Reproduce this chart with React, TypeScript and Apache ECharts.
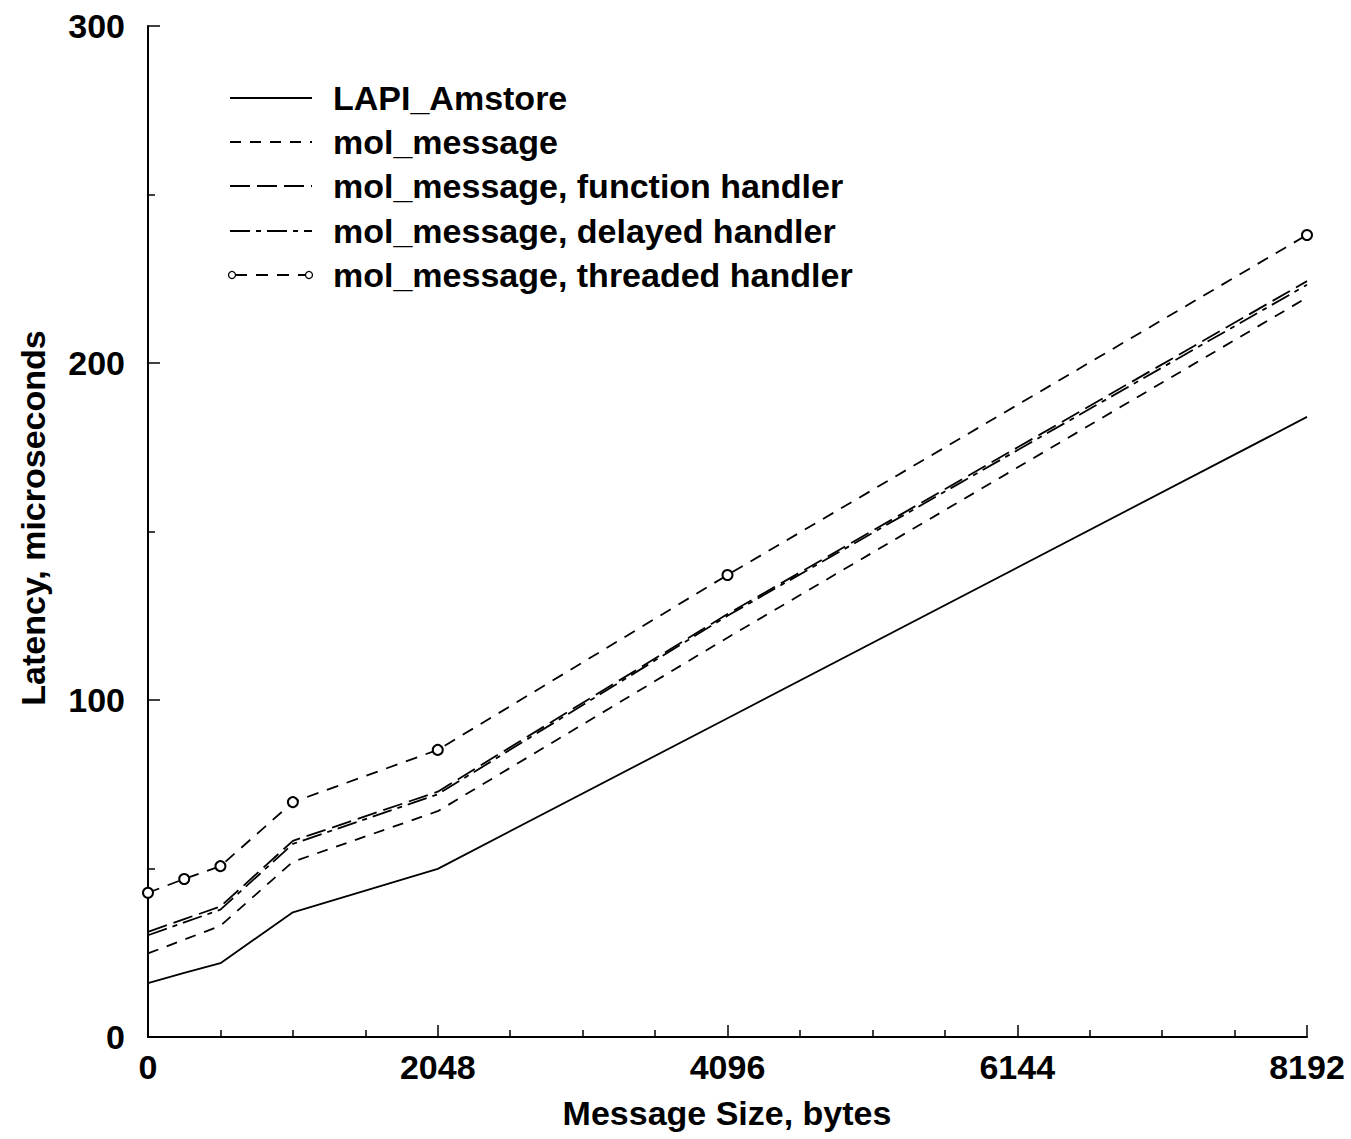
import React, { useEffect, useRef } from "react";
import * as echarts from "echarts";

const xValues = [0, 256, 512, 1024, 2048, 4096, 8192];
const lapiAmstore = [16.0, 19.0, 21.9, 37.0, 49.9, 94.6, 184.0];
const molMessage = [24.8, 28.9, 33.0, 52.0, 67.0, 118.5, 219.4];
const molFunction = [31.2, 35.0, 38.7, 58.2, 72.8, 125.5, 224.3];
const molDelayed = [30.2, 34.0, 37.8, 57.3, 72.0, 125.0, 223.2];
const molThreaded = [42.8, 46.9, 50.7, 69.7, 85.2, 137.1, 238.0];

const seriesNames = [
  "LAPI_Amstore",
  "mol_message",
  "mol_message, function handler",
  "mol_message, delayed handler",
  "mol_message, threaded handler",
];
const xTitle = "Message Size, bytes";
const yTitle = "Latency, microseconds";

const FONT = "'Liberation Sans', Arial, Helvetica, sans-serif";

export default function App() {
  const ref = useRef<HTMLDivElement>(null);
  useEffect(() => {
    if (!ref.current) return;
    const chart = echarts.init(ref.current, undefined, { renderer: "svg" });
    const dashes: any[] = ["solid", [11, 9], [20, 7], [20, 6, 5, 6], [12, 9]];
    const allData = [lapiAmstore, molMessage, molFunction, molDelayed, molThreaded];
    const series = allData.map((vals, i) => ({
      name: seriesNames[i],
      type: "line",
      data: xValues.map((x, j) => [x, vals[j]]),
      showSymbol: i === 4,
      symbol: "emptyCircle",
      symbolSize: 10,
      itemStyle: { color: "#000", borderColor: "#000", borderWidth: 1.5 },
      lineStyle: { color: "#000", width: 1.8, type: dashes[i] },
      silent: true,
      z: 2,
    }));

    const legendX0 = 230;
    const legendX1 = 312;
    const rowY = [98, 142, 186, 231, 275];
    const graphic: any[] = [];
    seriesNames.forEach((name, i) => {
      const y = rowY[i];
      graphic.push({
        type: "line",
        shape: { x1: i === 4 ? legendX0 + 5 : legendX0, y1: y, x2: i === 4 ? legendX1 - 6 : legendX1, y2: y },
        style: { stroke: "#000", lineWidth: 1.8, lineDash: dashes[i] === "solid" ? null : dashes[i] },
      });
      if (i === 4) {
        graphic.push({ type: "circle", shape: { cx: legendX0 + 2, cy: y, r: 3.5 }, style: { fill: "#fff", stroke: "#000", lineWidth: 1.3 } });
        graphic.push({ type: "circle", shape: { cx: legendX1 - 3, cy: y, r: 3.5 }, style: { fill: "#fff", stroke: "#000", lineWidth: 1.3 } });
      }
      graphic.push({
        type: "text",
        x: 333,
        y,
        style: {
          text: name,
          font: `bold 34px ${FONT}`,
          fill: "#000",
          textAlign: "left",
          textVerticalAlign: "middle",
        },
      });
    });
    graphic.push({
      type: "text",
      x: 727,
      y: 1113,
      style: { text: xTitle, font: `bold 34px ${FONT}`, fill: "#000", textAlign: "center", textVerticalAlign: "middle" },
    });
    graphic.push({
      type: "text",
      x: 33,
      y: 518,
      rotation: Math.PI / 2,
      style: { text: yTitle, font: `bold 34px ${FONT}`, fill: "#000", textAlign: "center", textVerticalAlign: "middle" },
    });

    const axisLabel = { fontSize: 34, fontWeight: "bold", fontFamily: FONT, color: "#000", formatter: (v: number) => String(v) };
    chart.setOption({
      animation: false,
      backgroundColor: "#fff",
      grid: { left: 148, right: 44, top: 26, bottom: 102, containLabel: false },
      xAxis: {
        type: "value",
        min: 0,
        max: 8192,
        interval: 2048,
        axisLine: { show: true, onZero: false, lineStyle: { color: "#000", width: 2 } },
        axisTick: { show: true, inside: true, length: 12, lineStyle: { color: "#000", width: 1.5 } },
        minorTick: { show: true, splitNumber: 4, length: 7, lineStyle: { color: "#000", width: 1.5 } },
        splitLine: { show: false },
        minorSplitLine: { show: false },
        axisLabel: { ...axisLabel, margin: 13, showMinLabel: true, showMaxLabel: true },
      },
      yAxis: {
        type: "value",
        min: 0,
        max: 300,
        interval: 100,
        axisLine: { show: true, onZero: false, lineStyle: { color: "#000", width: 2 } },
        axisTick: { show: true, inside: true, length: 12, lineStyle: { color: "#000", width: 1.5 } },
        minorTick: { show: true, splitNumber: 2, length: 7, lineStyle: { color: "#000", width: 1.5 } },
        splitLine: { show: false },
        minorSplitLine: { show: false },
        axisLabel: { ...axisLabel, margin: 23 },
      },
      series,
      graphic,
    });
    return () => chart.dispose();
  }, []);
  return (
    <div
      ref={ref}
      style={{ position: "absolute", left: 0, top: 0, width: 1351, height: 1139, background: "#fff" }}
    />
  );
}
